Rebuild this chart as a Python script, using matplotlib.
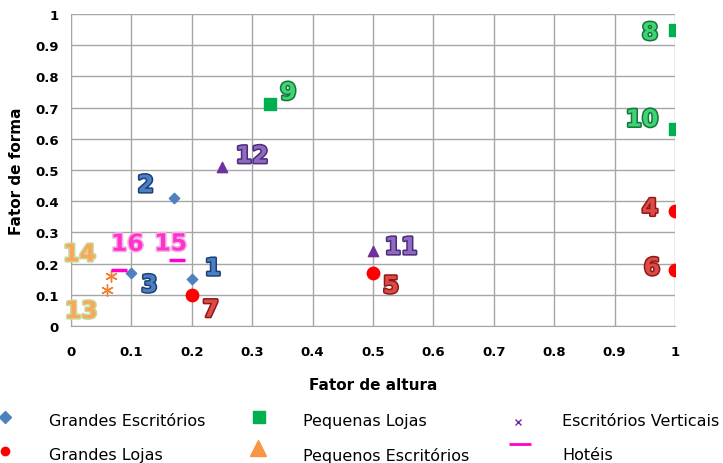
import matplotlib
matplotlib.use("Agg")
import matplotlib.pyplot as plt
import matplotlib.patheffects as pe
from matplotlib.lines import Line2D

# building types: x = fator de altura, y = fator de forma, point number
ge_x = [0.2, 0.17, 0.1]
ge_y = [0.15, 0.41, 0.17]
ge_n = ["1", "2", "3"]

gl_x = [1.0, 0.5, 1.0, 0.2]
gl_y = [0.37, 0.17, 0.18, 0.1]
gl_n = ["4", "5", "6", "7"]

pl_x = [1.0, 0.33, 1.0]
pl_y = [0.95, 0.71, 0.63]
pl_n = ["8", "9", "10"]

pe_x = [0.5, 0.25]
pe_y = [0.24, 0.51]
pe_n = ["11", "12"]

ev_x = [0.06, 0.067]
ev_y = [0.115, 0.16]
ev_n = ["13", "14"]

ho_x = [0.175, 0.08]
ho_y = [0.21, 0.18]
ho_n = ["15", "16"]

# label offsets in pixels for each numbered point
offsets = {
    "1": (21, 11), "2": (-28, 13), "3": (18, -12), "4": (-25, 2),
    "5": (18, -13), "6": (-23, 2), "7": (19, -15), "8": (-25, -3),
    "9": (18, 12), "10": (-33, 10), "11": (28, 4), "12": (30, 11),
    "13": (-26, -21), "14": (-32, 22), "15": (-6, 17), "16": (8, 26),
}

W, H = 723, 464
fig = plt.figure(figsize=(W / 100, H / 100), dpi=100)
ax = fig.add_axes([71 / W, 1 - 327 / H, 604 / W, 312 / H])

ax.scatter(ge_x, ge_y, marker="D", s=28, color="#4f81bd", zorder=3)
ax.scatter(gl_x, gl_y, marker="o", s=80, color="#ff0000", zorder=3)
ax.scatter(pl_x, pl_y, marker="s", s=70, color="#00b050", zorder=3)
ax.scatter(pe_x, pe_y, marker="^", s=55, color="#7030a0", zorder=3)
ax.scatter(ev_x, ev_y, marker=(6, 2, 0), s=70, color="#f07e30", linewidths=1, zorder=3)
ax.scatter(ho_x, ho_y, marker="_", s=120, color="#ff00cc", linewidths=2.5, zorder=3)

groups = [
    (ge_x, ge_y, ge_n, "#4a7fc8", "#1f3f73"),
    (gl_x, gl_y, gl_n, "#e04a45", "#8b1a1a"),
    (pl_x, pl_y, pl_n, "#3ed474", "#12753a"),
    (pe_x, pe_y, pe_n, "#8f6ac0", "#4b2c7a"),
    (ev_x, ev_y, ev_n, "#f7a85a", "#c9d89a"),
    (ho_x, ho_y, ho_n, "#ff33cc", "#f3b4e4"),
]
for xs, ys, ns, fill, edge in groups:
    for x, y, n in zip(xs, ys, ns):
        dx, dy = offsets[n]
        ax.annotate(n, (x, y), xytext=(dx, dy), textcoords="offset pixels",
                    ha="center", va="center", fontsize=17, fontweight="bold",
                    color=fill, zorder=4,
                    path_effects=[pe.withStroke(linewidth=2.2, foreground=edge)])

ax.set_xlim(0, 1)
ax.set_ylim(0, 1)
ticks = [i / 10 for i in range(11)]
ax.set_xticks(ticks)
ax.set_yticks(ticks)
ax.set_xticklabels(["0"] + [f"{t:g}" for t in ticks[1:-1]] + ["1"])
ax.set_yticklabels(["0"] + [f"{t:g}" for t in ticks[1:-1]] + ["1"])
ax.tick_params(length=0, labelsize=9.5)
ax.tick_params(axis="x", pad=14)
ax.tick_params(axis="y", pad=9)
for lab in ax.get_xticklabels() + ax.get_yticklabels():
    lab.set_fontweight("semibold")
ax.grid(True, color="#a6a6a6", linewidth=1)
ax.set_axisbelow(True)
for side in ["top", "right"]:
    ax.spines[side].set_visible(False)
for side in ["left", "bottom"]:
    ax.spines[side].set_color("#a6a6a6")

ax.set_xlabel("Fator de altura", fontsize=11, fontweight="bold", labelpad=13)
ax.set_ylabel("Fator de forma", fontsize=11, fontweight="bold", labelpad=8)

# legend: two rows by three columns laid out under the plot
legend_items = [
    ("Grandes Escritórios", dict(marker="D", color="#4f81bd", markersize=6), 5, 418, 49, 422),
    ("Grandes Lojas", dict(marker="o", color="#ff0000", markersize=6), 5, 452, 49, 456),
    ("Pequenas Lojas", dict(marker="s", color="#00b050", markersize=8), 259, 418, 303, 422),
    ("Pequenos Escritórios", dict(marker="^", color="#f79646", markersize=11), 258, 449, 303, 456),
    ("Escritórios Verticais", dict(marker="x", color="#7030a0", markersize=5), 518, 423, 562, 422),
    ("Hotéis", dict(marker="_", color="#ff00cc", markersize=16, markeredgewidth=2), 520, 445, 562, 456),
]
for name, style, mx, my, tx, ty in legend_items:
    fig.add_artist(Line2D([mx / W], [1 - my / H], linestyle="none",
                          transform=fig.transFigure, **style))
    fig.text(tx / W, 1 - ty / H, name, fontsize=11.5, va="center", ha="left")

fig.savefig("out.png", dpi=100)
